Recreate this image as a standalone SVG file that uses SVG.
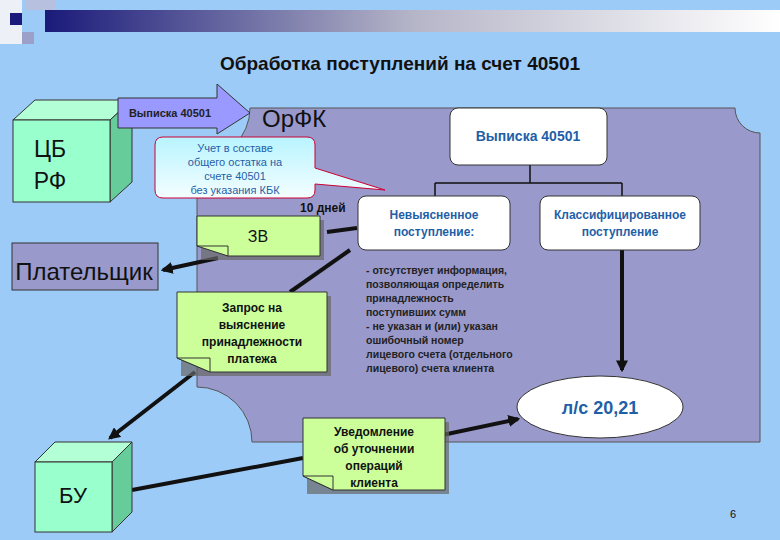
<svg xmlns="http://www.w3.org/2000/svg" width="780" height="540" viewBox="0 0 780 540">
<style>
text{font-family:"Liberation Sans",Arial,sans-serif}
.note{fill:#CCFF99;stroke:#333;stroke-width:1}
.shadow{fill:#666;opacity:.7}
.box{fill:#fff;stroke:#333;stroke-width:1}
.blue{fill:#1F5FA8;font-weight:bold;text-anchor:middle}
.dark{fill:#111;font-weight:bold;text-anchor:middle;font-size:12px}
.con{stroke:#111;stroke-width:4;fill:none}
</style>
<defs>
<linearGradient id="bar" x1="0" x2="1"><stop offset="0" stop-color="#1A1A7A"/><stop offset="0.5" stop-color="#B5B5C8"/><stop offset="1" stop-color="#fff"/></linearGradient>
<linearGradient id="cal" x1="0" y1="0" x2="0" y2="1"><stop offset="0" stop-color="#B8F4FF"/><stop offset="1" stop-color="#F4FEFF"/></linearGradient>
<marker id="ah" viewBox="0 0 10 10" refX="8" refY="5" markerWidth="3" markerHeight="3" orient="auto"><path d="M0,0L10,5L0,10z" fill="#111"/></marker>
</defs>
<rect width="780" height="540" fill="#9DCBF8"/>
<rect x="45" y="10" width="735" height="22" fill="url(#bar)"/>
<rect x="0" y="0" width="22" height="44" fill="#EEF0F8"/>
<rect x="25" y="0" width="30" height="10" fill="#B8C0E0"/>
<rect x="10" y="13" width="12" height="12" fill="#1A1A7A"/>
<rect x="22" y="32" width="12" height="12" fill="#9BA0C8"/>
<text x="400" y="70" font-size="19" font-weight="bold" text-anchor="middle" fill="#111">Обработка поступлений на счет 40501</text>

<path id="plaque" d="M250,108 H735 A25,25 0 0 0 760,133 V442 H252 A55,55 0 0 0 197,387 V160 A52,52 0 0 0 250,108 Z" fill="#9999CC" stroke="#555" stroke-width="1"/>

<g id="cbrf">
<path d="M13,120 L35,100 H132 L110,120 Z" fill="#B3FFD6" stroke="#333"/>
<path d="M110,120 L132,100 V182 L110,202 Z" fill="#66CC99" stroke="#333"/>
<rect x="13" y="120" width="97" height="82" fill="#99FFCC" stroke="#333"/>
<text x="50" y="157" font-size="23" text-anchor="middle" fill="#111">ЦБ</text>
<text x="50" y="189" font-size="23" text-anchor="middle" fill="#111">РФ</text>
</g>
<g id="arrow-vyp">
<path d="M118,98 H217 V84 L250,113 L217,134 V128 H118 Z" fill="#9999FF" stroke="#333"/>
<text x="170" y="117" font-size="11" font-weight="bold" text-anchor="middle" fill="#222">Выписка 40501</text>
</g>
<text x="262" y="127" font-size="24" fill="#111">ОрФК</text>

<g id="callout">
<path d="M163,137 H307 Q315,137 315,145 V168 L385,190 L315,184 V190 Q315,198 307,198 H163 Q155,198 155,190 V145 Q155,137 163,137 Z" fill="url(#cal)" stroke="#CC0033" stroke-width="1"/>
<g class="blue" font-size="11" style="font-weight:normal"><text x="235" y="152">Учет в составе</text><text x="235" y="166">общего остатка на</text><text x="235" y="180">счете 40501</text><text x="235" y="194">без указания КБК</text></g>
</g>

<g id="connectors">
<path d="M530,165 V183 M435,183 H622 M435,183 V197 M622,183 V197" stroke="#111" stroke-width="1.5" fill="none"/>
<line class="con" x1="357" y1="228" x2="327" y2="232"/>
<line class="con" x1="218" y1="258" x2="163" y2="270" marker-end="url(#ah)"/>
<line class="con" x1="350" y1="250" x2="290" y2="292"/>
<line class="con" x1="622" y1="250" x2="622" y2="370" stroke-width="2.5" marker-end="url(#ah)"/>
<line class="con" x1="195" y1="372" x2="110" y2="438" marker-end="url(#ah)"/>
<line class="con" x1="433" y1="437" x2="518" y2="419" marker-end="url(#ah)"/>
<line class="con" x1="303" y1="458" x2="132" y2="490"/>
</g>

<g id="vyp40501"><rect class="box" x="450" y="108" width="157" height="57" rx="8"/><text class="blue" x="528" y="141" font-size="14">Выписка 40501</text></g>
<g id="nevyyas"><rect class="box" x="358" y="196" width="152" height="54" rx="8"/><text class="blue" x="434" y="219" font-size="12">Невыясненное</text><text class="blue" x="434" y="236" font-size="12">поступление:</text></g>
<g id="klass"><rect class="box" x="540" y="196" width="160" height="54" rx="8"/><text class="blue" x="620" y="219" font-size="12">Классифицированное</text><text class="blue" x="620" y="236" font-size="12">поступление</text></g>
<text x="300" y="212" font-size="12" font-weight="bold" fill="#111">10 дней</text>

<g id="zv"><rect class="shadow" x="201" y="220" width="123" height="40"/><path class="note" d="M197,216 H320 V256 H228 L213,250 L197,246 Z"/><path class="note" d="M197,246 L228,246 V256 Z" fill="#99CC66"/><text x="258" y="242" font-size="16" text-anchor="middle" fill="#111">ЗВ</text></g>

<g id="platelshik"><rect x="12" y="243" width="146" height="47" fill="#9999CC" stroke="#333"/><text x="84" y="280" font-size="24" text-anchor="middle" fill="#111">Плательщик</text></g>

<g id="zapros"><rect class="shadow" x="181" y="296" width="150" height="80"/><path class="note" d="M177,292 H327 V372 H210 L177,358 Z"/><path class="note" d="M177,358 H210 V372 Z" fill="#99CC66"/><g class="dark"><text x="252" y="312">Запрос на</text><text x="252" y="329">выяснение</text><text x="252" y="346">принадлежности</text><text x="252" y="363">платежа</text></g></g>

<g font-size="10.5" font-weight="bold" fill="#222"><text x="366" y="274">- отсутствует информация,</text><text x="366" y="288">позволяющая определить</text><text x="366" y="302">принадлежность</text><text x="366" y="316">поступивших сумм</text><text x="366" y="330">- не указан и (или) указан</text><text x="366" y="344">ошибочный номер</text><text x="366" y="358">лицевого счета (отдельного</text><text x="366" y="372">лицевого) счета клиента</text></g>

<g id="ls"><ellipse cx="600" cy="407" rx="83" ry="31" fill="#fff" stroke="#333"/><text class="blue" x="600" y="414" font-size="18">л/с 20,21</text></g>

<g id="uved"><rect class="shadow" x="307" y="422" width="142" height="72"/><path class="note" d="M303,418 H445 V490 H333 L303,476 Z"/><path class="note" d="M303,476 H333 V490 Z" fill="#99CC66"/><g class="dark"><text x="374" y="436">Уведомление</text><text x="374" y="453">об уточнении</text><text x="374" y="470">операций</text><text x="374" y="487">клиента</text></g></g>

<g id="bu">
<path d="M35,462 L55,442 H132 L112,462 Z" fill="#B3FFD6" stroke="#333"/>
<path d="M112,462 L132,442 V512 L112,532 Z" fill="#66CC99" stroke="#333"/>
<rect x="35" y="462" width="77" height="70" fill="#99FFCC" stroke="#333"/>
<text x="73" y="503" font-size="22" text-anchor="middle" fill="#111">БУ</text>
</g>
<text x="730" y="518" font-size="11" fill="#111">6</text>
</svg>
